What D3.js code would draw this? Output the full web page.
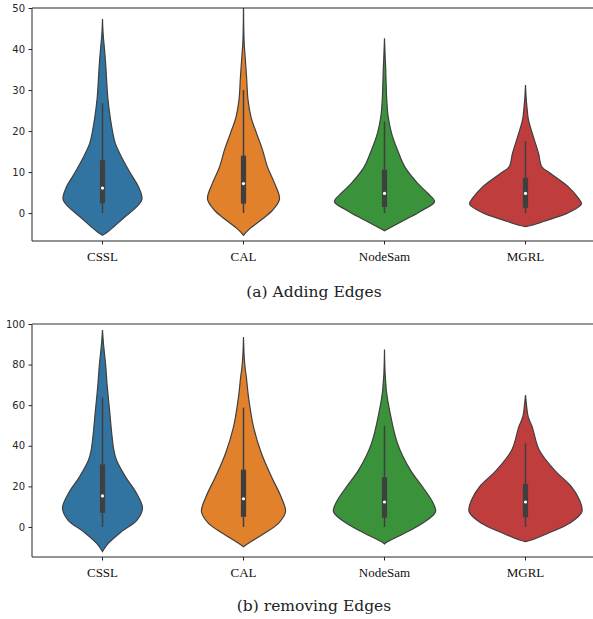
<!DOCTYPE html>
<html><head><meta charset="utf-8">
<script src="https://cdn.jsdelivr.net/npm/d3@7"></script>
<style>body{margin:0;background:#fff}svg{display:block}</style>
</head><body>
<svg id="chart" width="593" height="619"></svg>
<script>
const categories = ["CSSL","CAL","NodeSam","MGRL"];
const colors = ["#3274a1","#e1812c","#3a923a","#c03d3e"];
const captions = ["(a) Adding Edges","(b) removing Edges"];
const ticksA = [0,10,20,30,40,50];
const ticksB = [0,20,40,60,80,100];

// density profiles: [value, relative half-width]
const addCSSL = [[47.3,0],[43.5,0.012],[40,0.035],[36,0.058],[32,0.075],[28,0.095],[24,0.13],[20,0.177],[17,0.227],[13.7,0.337],[9.7,0.496],[6.4,0.638],[3.4,0.70],[1.5,0.603],[-1,0.39],[-3.4,0.195],[-4.6,0.089],[-5.4,0]];
const addCAL = [[52,0],[42,0.01],[38,0.03],[33,0.055],[27.6,0.08],[23.4,0.133],[19.5,0.23],[15.4,0.337],[11.2,0.426],[7.3,0.55],[3.4,0.638],[0.7,0.514],[-1.7,0.31],[-4.1,0.089],[-5.4,0]];
const addNodeSam = [[42.6,0],[38,0.012],[35.7,0.02],[27.6,0.04],[23.5,0.065],[19.5,0.124],[15.4,0.23],[11.2,0.363],[7.3,0.585],[4.9,0.762],[2.8,0.887],[0.7,0.674],[-1.7,0.355],[-3.4,0.124],[-4.3,0]];
const addMGRL = [[31.2,0],[28,0.012],[26,0.025],[22.7,0.053],[18.6,0.14],[14.6,0.23],[11.3,0.29],[9.7,0.44],[6.4,0.76],[3.6,0.94],[2.2,0.99],[0,0.745],[-1.7,0.39],[-2.9,0.133],[-3.3,0]];

const remCSSL = [[97,0],[92,0.012],[88,0.025],[80,0.055],[69,0.085],[57.6,0.125],[44.4,0.17],[38,0.2],[33,0.248],[24.7,0.408],[16.6,0.603],[9.2,0.709],[3.4,0.612],[-2.3,0.337],[-8,0.106],[-12.1,0]];
const remCAL = [[93.6,0],[84,0.012],[78,0.03],[74,0.05],[64,0.089],[49.3,0.177],[36.2,0.319],[24.7,0.496],[14.9,0.665],[7.5,0.745],[1.8,0.62],[-3.1,0.372],[-8,0.089],[-9.7,0]];
const remNodeSam = [[87.4,0],[76,0.01],[70,0.025],[66.6,0.035],[57.6,0.089],[41.2,0.23],[28,0.46],[19.8,0.674],[12.4,0.85],[7.5,0.904],[1.8,0.674],[-3.1,0.355],[-7.2,0.058],[-8.4,0]];
const remMGRL = [[65,0],[60,0.018],[54.3,0.047],[49.3,0.119],[37.9,0.243],[28,0.514],[19.8,0.816],[13.3,0.957],[7.5,1.0],[1.8,0.78],[-3.1,0.40],[-6.4,0.106],[-7.2,0]];

// box stats: [whiskerLow, q1, median, q3, whiskerHigh]
const addBox = [[0,2.4,6.1,12.9,26.8],[0,2.3,7.2,14,30],[0,1.5,4.8,10.6,22.3],[0,1.3,4.8,8.6,17.6]];
const remBox = [[0,7,15.3,30.8,63.8],[0,5,13.9,28.2,58.8],[0,4.6,12.3,24.5,49.8],[0,4.8,12.3,21.2,41.2]];

const panels = [
  {top:8, bottom:241, domain:[-6.8,50], ticks:ticksA, profiles:[addCSSL,addCAL,addNodeSam,addMGRL], boxes:addBox, caption:captions[0], capY:297},
  {top:324, bottom:557, domain:[-14.8,100], ticks:ticksB, profiles:[remCSSL,remCAL,remNodeSam,remMGRL], boxes:remBox, caption:captions[1], capY:611}
];

const svg = d3.select("#chart");
const left = 32, right = 596;
const x = d3.scaleBand().domain(categories).range([left,right]).paddingInner(0).paddingOuter(0);
const w = d3.scaleLinear().domain([0,1]).range([0, x.bandwidth()*0.4]);

panels.forEach((p,pi)=>{
  const y = d3.scaleLinear().domain(p.domain).range([p.bottom,p.top]);
  const g = svg.append("g");
  const clipId = "clip"+pi;
  svg.append("clipPath").attr("id",clipId).append("rect")
    .attr("x",left).attr("y",p.top).attr("width",right-left).attr("height",p.bottom-p.top);
  const plot = g.append("g").attr("clip-path",`url(#${clipId})`);
  categories.forEach((c,i)=>{
    const cx = x(c)+x.bandwidth()/2;
    const area = d3.area()
      .y(d=>y(d[0]))
      .x0(d=>cx-w(d[1]))
      .x1(d=>cx+w(d[1]))
      .curve(d3.curveCatmullRom.alpha(0.5));
    plot.append("path").datum(p.profiles[i]).attr("d",area)
      .attr("fill",colors[i]).attr("stroke","#3f3f3f").attr("stroke-width",1.2);
    const b = p.boxes[i];
    plot.append("line").attr("x1",cx).attr("x2",cx).attr("y1",y(b[0])).attr("y2",y(b[4]))
      .attr("stroke","#3f3f3f").attr("stroke-width",1.5);
    plot.append("rect").attr("x",cx-2.6).attr("width",5.2).attr("y",y(b[3])).attr("height",y(b[1])-y(b[3]))
      .attr("fill","#3f3f3f");
    plot.append("circle").attr("cx",cx).attr("cy",y(b[2])).attr("r",1.6).attr("fill","#fff");
  });
  // y axis
  const ya = g.append("g").attr("transform",`translate(${left},0)`)
    .call(d3.axisLeft(y).tickValues(p.ticks).tickSize(3.5).tickPadding(3.5));
  ya.select(".domain").remove();
  ya.selectAll("text").attr("font-family","DejaVu Sans").attr("font-size",10).attr("fill","#262626");
  ya.selectAll("line").attr("stroke","#262626");
  // x axis
  const xa = g.append("g").attr("transform",`translate(0,${p.bottom})`)
    .call(d3.axisBottom(x).tickSize(3.5).tickPadding(7));
  xa.select(".domain").remove();
  xa.selectAll("text").attr("font-family","Liberation Serif").attr("font-size",13).attr("fill","#111");
  xa.selectAll("line").attr("stroke","#262626");
  // spines
  g.append("line").attr("x1",left).attr("x2",left).attr("y1",p.top).attr("y2",p.bottom).attr("stroke","#262626").attr("stroke-width",1);
  g.append("line").attr("x1",left).attr("x2",right).attr("y1",p.bottom).attr("y2",p.bottom).attr("stroke","#262626").attr("stroke-width",1);
  g.append("line").attr("x1",left).attr("x2",right).attr("y1",p.top).attr("y2",p.top).attr("stroke",pi===0?"#262626":"#777").attr("stroke-width",pi===0?1:1.4);
  svg.append("text").attr("x",314).attr("y",p.capY).attr("text-anchor","middle")
    .attr("font-family","DejaVu Serif").attr("font-size",15.5).attr("fill","#222").text(p.caption);
});
</script>
</body></html>
